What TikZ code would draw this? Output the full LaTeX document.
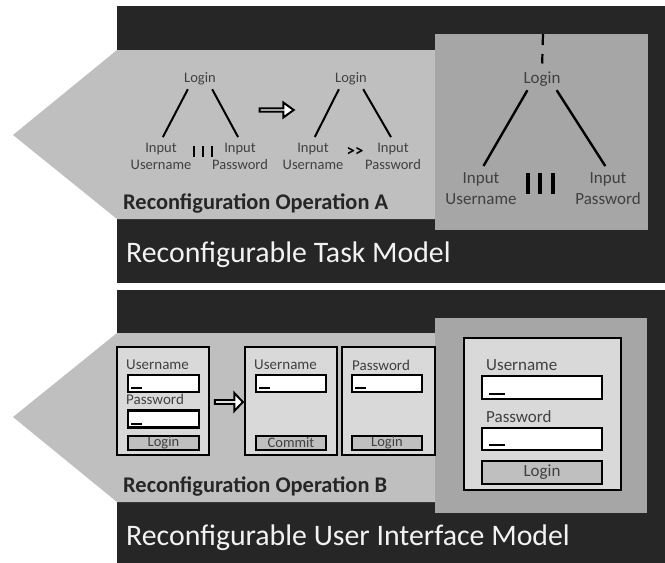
\documentclass[tikz,border=0pt]{standalone}
\usepackage{fontspec}
\setmainfont{Carlito}
\usepackage{tikz}
\usetikzlibrary{positioning}
\usetikzlibrary{shapes.arrows}
\definecolor{darkbg}{RGB}{38,38,38}
\definecolor{bandgray}{RGB}{191,191,191}
\definecolor{boxgray}{RGB}{166,166,166}
\definecolor{panelgray}{RGB}{217,217,217}
\definecolor{labelgray}{RGB}{64,64,64}
\definecolor{titlewhite}{RGB}{242,242,242}
\tikzset{task node/.style={text=labelgray,inner sep=2pt,align=center,font=\fontsize{14.5}{17}\selectfont},
  big task node/.style={task node,font=\fontsize{17}{21}\selectfont},
  tree edge/.style={line width=2pt,shorten <=2pt,shorten >=4pt},
  bar/.style={line width=2.4pt},
  swap arrow/.style={single arrow,draw,fill=white,line width=2pt,inner sep=0pt},
  form node/.style={draw,line width=2pt,fill=panelgray,inner sep=0pt},
  field node/.style={draw,line width=2.2pt,fill=white,inner sep=0pt,minimum width=71pt,minimum height=17pt,
    path picture={\draw[line width=2pt] ([shift={(3pt,4pt)}]path picture bounding box.south west) -- ++(11pt,0pt);}},
  big field node/.style={field node,minimum width=120pt,minimum height=23pt,
    path picture={\draw[line width=2pt] ([shift={(7pt,5pt)}]path picture bounding box.south west) -- ++(16pt,0pt);}},
  button node/.style={draw,line width=2pt,fill=bandgray,inner sep=0pt,text=labelgray,minimum width=71pt,minimum height=14pt,font=\fontsize{14.5}{15}\selectfont},
  big button node/.style={button node,minimum width=120pt,minimum height=23pt,font=\fontsize{17}{17}\selectfont},
  field name/.style={text=labelgray,inner sep=0pt,anchor=west,font=\fontsize{15}{15}\selectfont},
  big field name/.style={field name,font=\fontsize{17}{17}\selectfont},
  heading/.style={text=titlewhite,anchor=base west,inner sep=0pt,font=\fontsize{29.8}{30}\selectfont},
  operation/.style={text=darkbg,anchor=base west,inner sep=0pt,font=\bfseries\fontsize{22.4}{23}\selectfont},
}

\begin{document}
\begin{tikzpicture}[x=1pt,y=-1pt]
	\useasboundingbox (0,0) rectangle (665,563);

	% task model
	\fill[darkbg] (117,6) rectangle (665,283);
	\fill[bandgray] (13,135) -- (117,50) -- (440,50) -- (440,219) -- (117,219) -- cycle;
	\fill[boxgray] (435,34) rectangle (648,230);

	\node[task node] (login1) at (200,79) {Login};
	\node[task node] (user1) at (161,156) {Input\\Username};
	\node[task node] (pass1) at (240,156) {Input\\Password};
	\draw[tree edge] (login1.-143) -- (user1.north);
	\draw[tree edge] (login1.-37) -- (pass1.north);
	\foreach \x in {194,203,212} \draw[bar] (\x,146) -- (\x,157);

	\node[swap arrow,minimum height=34pt,minimum width=15pt,single arrow head extend=3.5pt,single arrow tip angle=72] (toA) at (275.5,110) {};

	\node[task node] (login2) at (351,79) {Login};
	\node[task node] (user2) at (313,156) {Input\\Username};
	\node[task node] (pass2) at (393,156) {Input\\Password};
	\node[task node,text=black,font=\bfseries\fontsize{17}{17}\selectfont] (seq2) at (355,152) {>\kern0pt>};
	\draw[tree edge] (login2.-143) -- (user2.north);
	\draw[tree edge] (login2.-37) -- (pass2.north);

	\coordinate (treetop) at (543,34);
	\node[big task node] (login3) at (542,79) {Login};
	\node[big task node] (user3) at (481,188.5) {Input\\Username};
	\node[big task node] (pass3) at (608,188.5) {Input\\Password};
	\draw[line width=2.2pt,dash pattern=on 11pt off 9pt,shorten >=6pt] (treetop) -- (login3.north);
	\draw[tree edge,line width=2.4pt,shorten >=5pt] (login3.-145) -- (user3.north);
	\draw[tree edge,line width=2.4pt,shorten >=5pt] (login3.-35) -- (pass3.north);
	\foreach \x in {528,540,553} \draw[bar,line width=3.2pt] (\x,173) -- (\x,194);

	\node[operation] (opA) at (123,209) {Reconfiguration Operation A};
	\node[heading] (taskmodel) at (126,262) {Reconfigurable Task Model};

	% user interface model
	\fill[darkbg] (117,290) rectangle (665,563);
	\fill[bandgray] (13,417) -- (117,333) -- (440,333) -- (440,502) -- (117,502) -- cycle;
	\fill[boxgray] (435,318) rectangle (647,513);

	\node[form node,minimum width=92pt,minimum height=108pt] (formA) at (163,401) {};
	\node[field name] (unA) at (126,365) {Username};
	\node[field node] (ufA) at (163.5,383.5) {};
	\node[field name] (pwA) at (126,399) {Password};
	\node[field node] (pfA) at (163.5,419) {};
	\node[button node] (btA) at (163.5,443) {Login};

	\node[swap arrow,minimum height=28pt,minimum width=18pt,single arrow head extend=4pt,single arrow tip angle=93] (toB) at (228,402) {};

	\node[form node,minimum width=92pt,minimum height=108pt] (formB) at (291,401) {};
	\node[field name] (unB) at (254,365) {Username};
	\node[field node,minimum width=70pt] (ufB) at (291,383.5) {};
	\node[button node,minimum width=70pt] (btB) at (291,443) {Commit};

	\node[form node,minimum width=93pt,minimum height=108pt] (formC) [right=3pt of formB] {};
	\node[field name] (pwC) at (352,365) {Password};
	\node[field node,minimum width=70pt] (pfC) at (387,383.5) {};
	\node[button node,minimum width=70pt] (btC) at (387,443) {Login};

	\node[form node,minimum width=157pt,minimum height=152pt] (formD) at (542.5,414) {};
	\node[big field name] (unD) at (486,365) {Username};
	\node[big field node] (ufD) at (542,387.5) {};
	\node[big field name] (pwD) at (486,417) {Password};
	\node[big field node,minimum height=22pt] (pfD) at (542,439) {};
	\node[big button node] (btD) at (542,472.5) {Login};

	\node[operation] (opB) at (123,492) {Reconfiguration Operation B};
	\node[heading] (uimodel) at (126,545) {Reconfigurable User Interface Model};
\end{tikzpicture}
\end{document}
